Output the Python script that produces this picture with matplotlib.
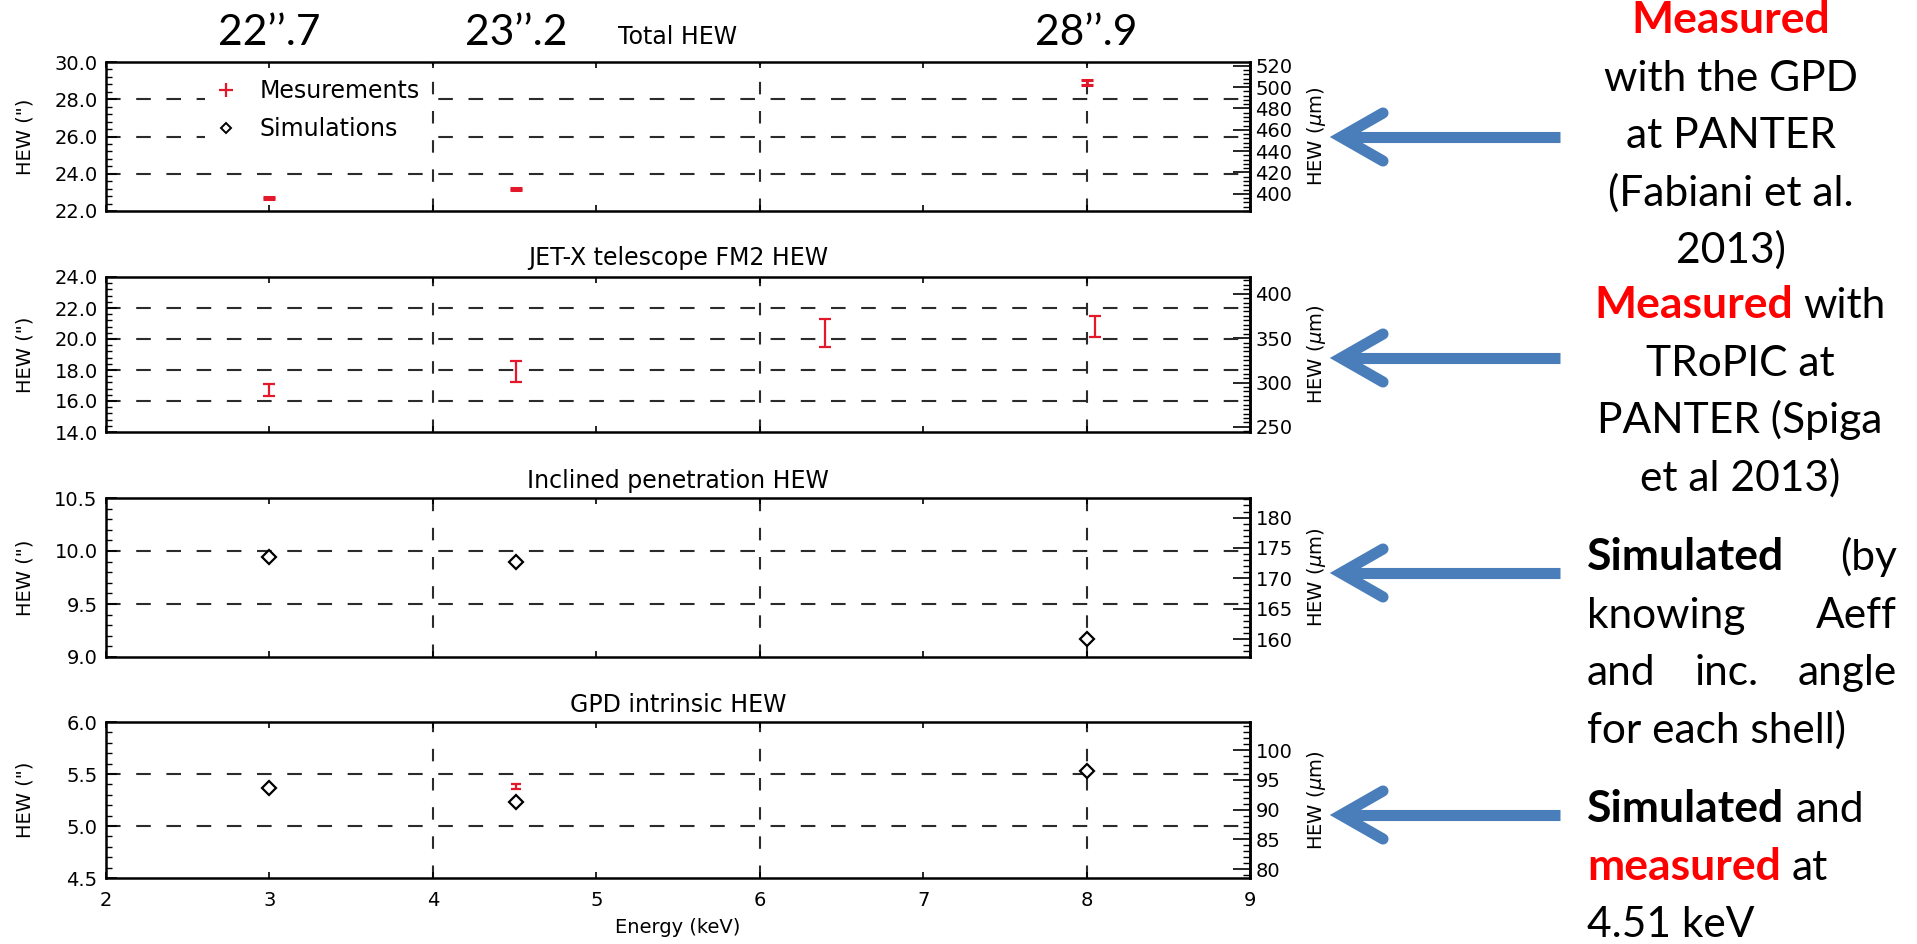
import matplotlib
matplotlib.use("Agg")
import matplotlib.pyplot as plt
from matplotlib.ticker import MultipleLocator, AutoMinorLocator, FormatStrFormatter
from matplotlib.lines import Line2D

# ---------------------------------------------------------------- data
# Total HEW measured with the GPD at PANTER (arcsec)
energy_total = [3.0, 4.51, 8.0]
hew_total = [22.7, 23.2, 28.9]
err_total = [0.05, 0.05, 0.15]

# JET-X telescope FM2 HEW measured with TRoPIC (arcsec)
energy_jetx = [3.0, 4.51, 6.4, 8.05]
hew_jetx = [16.7, 17.9, 20.4, 20.8]
err_jetx = [0.4, 0.65, 0.9, 0.7]

# simulated contributions (arcsec)
energy_sim = [3.0, 4.51, 8.0]
hew_inclined = [9.94, 9.90, 9.17]
hew_gpd_sim = [5.37, 5.23, 5.53]

# GPD intrinsic HEW measured at 4.51 keV (arcsec)
energy_gpd_meas = [4.51]
hew_gpd_meas = [5.38]
err_gpd_meas = [0.025]

panel_titles = ["Total HEW", "JET-X telescope FM2 HEW",
                "Inclined penetration HEW", "GPD intrinsic HEW"]
panel_ylims = [(22.0, 30.0), (14.0, 24.0), (9.0, 10.5), (4.5, 6.0)]
panel_ystep = [2.0, 2.0, 0.5, 0.5]
panel_right_step = [20, 50, 5, 5]
panel_right_minor = [5, 10, 5, 5]
x_range = (2, 9)
x_grid = [4, 6, 8]
legend_labels = ["Mesurements", "Simulations"]

MUM_PER_ARCSEC = 17.45   # plate scale for a 3.6 m focal length

# ---------------------------------------------------------------- style
W, H, DPI = 1917, 944, 100
RED = "#e3182a"
BLUE = "#4a7ebb"
GRID = "#2b2b2b"
PLOT_FONT = "DejaVu Sans"
NOTE_FONT = "Lato"

plt.rcParams["font.family"] = [PLOT_FONT]
plt.rcParams["mathtext.fontset"] = "dejavusans"

fig = plt.figure(figsize=(W / DPI, H / DPI), dpi=DPI)
fig.patch.set_facecolor("white")
fig.canvas.draw()
renderer = fig.canvas.get_renderer()


def text_width(s, size, weight="normal", family=NOTE_FONT):
    t = fig.text(0, 0, s, fontsize=size, family=family, weight=weight)
    w = t.get_window_extent(renderer).width
    t.remove()
    return w


# note sizes chosen so the text blocks keep their widths
FS_REG = 28 * 255 / text_width("with the GPD", 28)
FS_BOLD = 28 * 197 / text_width("Simulated", 28, "bold")

AX_L, AX_R = 106, 1250
AX_W = AX_R - AX_L
panel_px = [(62, 211), (277, 432), (498, 657), (722, 878)]
title_pad = [13, 9, 7, 7]


def px_rect(top, bottom):
    return [AX_L / W, 1 - bottom / H, AX_W / W, (bottom - top) / H]


axes = []
for i, (top, bottom) in enumerate(panel_px):
    ax = fig.add_axes(px_rect(top, bottom))
    axes.append(ax)
    lo, hi = panel_ylims[i]
    ax.set_xlim(*x_range)
    ax.set_ylim(lo, hi)
    for s in ax.spines.values():
        s.set_linewidth(1.8)
    ax.xaxis.set_major_locator(MultipleLocator(1))
    ax.yaxis.set_major_locator(MultipleLocator(panel_ystep[i]))
    ax.yaxis.set_minor_locator(AutoMinorLocator(5))
    ax.yaxis.set_major_formatter(FormatStrFormatter("%.1f"))
    ax.tick_params(axis="x", which="major", direction="in", top=True,
                   length=4, width=1.2, labelsize=14, pad=9)
    ax.tick_params(axis="y", which="major", direction="in", right=False,
                   length=8, width=1.2, labelsize=14, pad=6)
    ax.tick_params(axis="y", which="minor", direction="in", right=False,
                   length=4, width=1.0)
    if i < 3:
        ax.tick_params(axis="x", labelbottom=False)

    # dashed reference grid
    step = panel_ystep[i]
    n = int(round((hi - lo) / step))
    for k in range(1, n):
        ax.axhline(lo + k * step, color=GRID, lw=1.5, dashes=(7, 7.5), zorder=1)
    for xv in x_grid:
        ax.axvline(xv, color=GRID, lw=1.5, dashes=(6, 8), zorder=1)

    ax.set_title(panel_titles[i], fontsize=17, pad=title_pad[i])
    ax.set_ylabel('HEW (")', fontsize=14)
    ax.yaxis.label.set_va("center")
    ax.yaxis.set_label_coords((25 - AX_L) / AX_W, 0.5)

    sec = ax.secondary_yaxis("right", functions=(lambda v: v * MUM_PER_ARCSEC,
                                                 lambda v: v / MUM_PER_ARCSEC))
    sec.yaxis.set_major_locator(MultipleLocator(panel_right_step[i]))
    sec.yaxis.set_minor_locator(AutoMinorLocator(panel_right_minor[i]))
    sec.tick_params(which="major", direction="in", length=12, width=1.2,
                    labelsize=14, pad=4)
    sec.tick_params(which="minor", direction="in", length=5, width=1.0)
    sec.spines["right"].set_linewidth(1.8)
    ax.text((1317 - AX_L) / AX_W, 0.5, r"HEW ($\mu$m)", transform=ax.transAxes,
            rotation=90, ha="center", va="center", fontsize=14)

ax1, ax2, ax3, ax4 = axes
eb_kw = dict(fmt="none", ecolor=RED, elinewidth=1.6, capthick=1.6, zorder=4)
dia_kw = dict(ls="none", marker="D", ms=7.4, mfc="white", mec="black",
              mew=1.6, zorder=5)

# Total HEW
ax1.errorbar(energy_total, hew_total, yerr=err_total, capsize=4.6,
             **{**eb_kw, "elinewidth": 2.0, "capthick": 2.2})
for e, v in zip(energy_total, hew_total):
    whole, frac = f"{v:.1f}".split(".")
    ax1.annotate(f"{whole}\u2019\u2019.{frac}", xy=(e, 1.0),
                 xycoords=("data", "axes fraction"), xytext=(0, 12.2),
                 textcoords="offset points", ha="center", va="baseline",
                 fontsize=FS_REG, family=NOTE_FONT, annotation_clip=False)
handles = [Line2D([], [], ls="none", marker="+", ms=10, mew=1.6, color=RED),
           Line2D([], [], ls="none", marker="D", ms=5.2, mfc="white",
                  mec="black", mew=1.4)]
leg = ax1.legend(handles, legend_labels, loc="upper left",
                 bbox_to_anchor=((205 - AX_L) / AX_W, 0.95),
                 borderaxespad=0, borderpad=0.4, frameon=True, fancybox=False,
                 framealpha=1, facecolor="white", edgecolor="none",
                 fontsize=17, handlelength=1.0, handletextpad=0.9,
                 labelspacing=0.6)
leg.set_zorder(3)

# JET-X telescope
ax2.errorbar(energy_jetx, hew_jetx, yerr=err_jetx, capsize=4.3, **eb_kw)

# inclined penetration
ax3.plot(energy_sim, hew_inclined, **dia_kw)

# GPD intrinsic
ax4.errorbar(energy_gpd_meas, hew_gpd_meas, yerr=err_gpd_meas, capsize=3.6,
             **eb_kw)
ax4.plot(energy_sim, hew_gpd_sim, **dia_kw)
ax4.set_xlabel("Energy (keV)", fontsize=14, labelpad=6)

# ---------------------------------------------------------------- arrows
ARROW_Y = [137, 358, 573, 815]
TIP_X, TAIL_X = 1330, 1560
for y in ARROW_Y:
    yf = 1 - y / H
    vx = TIP_X + 11
    fig.add_artist(Line2D([vx / W, TAIL_X / W], [yf, yf], color=BLUE, lw=8,
                          solid_capstyle="butt"))
    fig.add_artist(Line2D([(vx + 42) / W, vx / W, (vx + 42) / W],
                          [yf + 24 / H, yf, yf - 24 / H], color=BLUE, lw=8,
                          solid_capstyle="round", solid_joinstyle="miter"))

# ---------------------------------------------------------------- notes
K, R, N, B = "black", "red", "normal", "bold"


def size_of(weight):
    return FS_BOLD if weight == B else FS_REG


SPACE = text_width("n n", FS_REG) - text_width("nn", FS_REG)
CAP_HALF = 0.358 * FS_REG * DPI / 72


def put_line(pieces, y, mode, x0=None, x1=None, cx=None):
    """Draw one line of mixed-style words; y is the centre of the capitals."""
    widths = [text_width(s, size_of(wt), wt) for s, c, wt in pieces]
    if mode == "justify":
        gap = (x1 - x0 - sum(widths)) / (len(pieces) - 1)
    else:
        gap = SPACE
    total = sum(widths) + gap * (len(pieces) - 1)
    x = cx - total / 2 if mode == "center" else x0
    base = 1 - (y + CAP_HALF) / H
    for (s, c, wt), w in zip(pieces, widths):
        fig.text(x / W, base, s, color=c, fontweight=wt, fontsize=size_of(wt),
                 family=NOTE_FONT, ha="left", va="baseline")
        x += w + gap


LINE = 57.5
block1 = [[("Measured", R, B)], [("with the GPD", K, N)], [("at PANTER", K, N)],
          [("(Fabiani et al.", K, N)], [("2013)", K, N)]]
block2 = [[("Measured", R, B), ("with", K, N)], [("TRoPIC at", K, N)],
          [("PANTER (Spiga", K, N)], [("et al 2013)", K, N)]]
block3 = [[("Simulated", K, B), ("(by", K, N)],
          [("knowing", K, N), ("Aeff", K, N)],
          [("and", K, N), ("inc.", K, N), ("angle", K, N)],
          [("for each shell)", K, N)]]
block4 = [[("Simulated", K, B), ("and", K, N)],
          [("measured", R, B), ("at", K, N)], [("4.51 keV", K, N)]]

for j, line in enumerate(block1):
    put_line(line, 18 + j * LINE, "center", cx=1731)
for j, line in enumerate(block2):
    put_line(line, 303 + j * LINE, "center", cx=1740)
for j, line in enumerate(block3):
    mode = "justify" if j < 3 else "left"
    put_line(line, 555 + j * LINE, mode, x0=1587, x1=1897)
for j, line in enumerate(block4):
    put_line(line, 807 + j * LINE, "left", x0=1587)

fig.savefig("out.png", dpi=DPI, facecolor="white")
